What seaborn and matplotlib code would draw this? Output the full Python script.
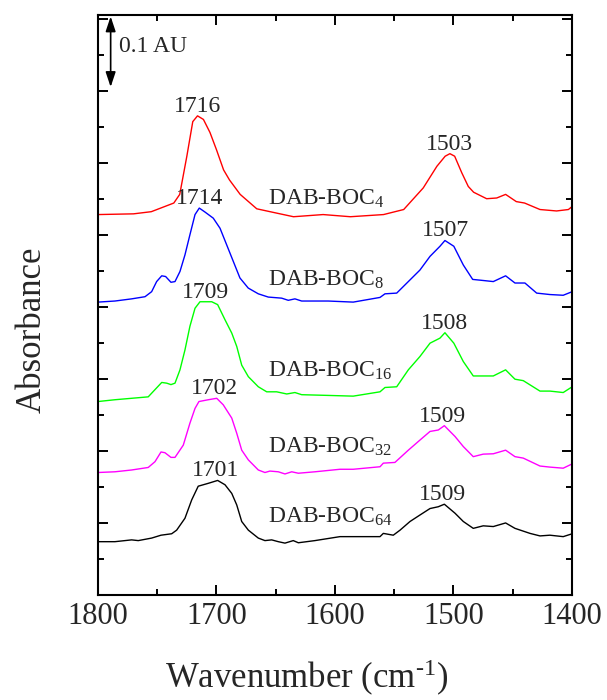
import matplotlib
matplotlib.use("Agg")
import matplotlib.pyplot as plt
from matplotlib.ticker import MultipleLocator, NullFormatter
import numpy as np
import pandas as pd
import seaborn as sns

# ---------------------------------------------------------------------------
# FTIR spectra of DAB-BOC dendrimers (offset absorbance, AU)
# ---------------------------------------------------------------------------
generations = [4, 8, 16, 32, 64]
colors = ["#ff0000", "#0000ff", "#00ff00", "#ff00ff", "#000000"]

wn_boc4 = [1800, 1770, 1755, 1736, 1731, 1725, 1720, 1716, 1711, 1705.5,
           1700, 1694, 1689, 1680, 1666, 1652, 1635, 1610, 1587, 1559,
           1542, 1525.5, 1514, 1507, 1503, 1499, 1493, 1487.5, 1483, 1472,
           1463.5, 1456, 1447, 1440, 1427, 1413, 1403, 1400]
ab_boc4 = [0.528, 0.529, 0.532, 0.544, 0.556, 0.609, 0.657, 0.665, 0.660, 0.642,
           0.618, 0.590, 0.576, 0.556, 0.536, 0.531, 0.525, 0.528, 0.525, 0.528,
           0.535, 0.565, 0.595, 0.609, 0.6125, 0.609, 0.586, 0.567, 0.559, 0.550,
           0.551, 0.556, 0.546, 0.544, 0.535, 0.533, 0.535, 0.539]

wn_boc8 = [1800, 1785.7, 1771.6, 1760.3, 1754.7, 1750.5, 1746.2, 1742.9, 1738.4, 1735.0,
           1730.8, 1726.6, 1722.4, 1718.1, 1714.5, 1709.7, 1702.7, 1697.0, 1691.4, 1685.8,
           1680.2, 1673.2, 1664.7, 1656.3, 1645.0, 1639.4, 1633.8, 1628.1, 1605.7, 1584.6,
           1562.0, 1557.8, 1547.9, 1538.1, 1528.3, 1519.8, 1511.4, 1507.2, 1499.7, 1491.7,
           1483.8, 1474.9, 1466.4, 1456.0, 1448.1, 1439.7, 1429.8, 1418.6, 1407.4, 1399.8]
ab_boc8 = [0.4065, 0.408, 0.411, 0.414, 0.421, 0.435, 0.443, 0.442, 0.434, 0.435,
           0.449, 0.472, 0.500, 0.528, 0.537, 0.5315, 0.523, 0.509, 0.486, 0.463,
           0.440, 0.426, 0.418, 0.4135, 0.412, 0.409, 0.411, 0.408, 0.408, 0.4065,
           0.413, 0.418, 0.419, 0.435, 0.451, 0.470, 0.484, 0.492, 0.484, 0.458,
           0.438, 0.4365, 0.435, 0.443, 0.433, 0.433, 0.419, 0.417, 0.416, 0.421]

wn_boc16 = [1800, 1785.7, 1771.6, 1757.6, 1751.9, 1746.2, 1742.0, 1738.4, 1735.0, 1730.8,
            1726.6, 1722.4, 1718.1, 1713.9, 1704.0, 1699.0, 1692.8, 1687.1, 1682.9, 1678.7,
            1673.1, 1664.7, 1657.6, 1649.2, 1640.7, 1633.8, 1628.1, 1605.7, 1584.6, 1562.0,
            1557.8, 1547.9, 1538.1, 1528.3, 1519.8, 1511.4, 1507.2, 1499.7, 1491.7, 1483.3,
            1474.9, 1466.4, 1456.0, 1448.1, 1441.1, 1427.0, 1418.6, 1407.4, 1399.8]
ab_boc16 = [0.2685, 0.271, 0.273, 0.275, 0.285, 0.295, 0.294, 0.292, 0.294, 0.3125,
            0.340, 0.373, 0.398, 0.407, 0.407, 0.403, 0.382, 0.3635, 0.345, 0.319,
            0.303, 0.289, 0.282, 0.282, 0.279, 0.281, 0.278, 0.277, 0.276, 0.282,
            0.288, 0.289, 0.3125, 0.331, 0.3495, 0.3565, 0.364, 0.3495, 0.324, 0.304,
            0.304, 0.304, 0.3125, 0.2995, 0.2975, 0.283, 0.283, 0.281, 0.289]

wn_boc32 = [1800, 1785.7, 1771.6, 1757.6, 1751.9, 1746.8, 1743.5, 1738.4, 1735.0, 1728.0,
            1722.4, 1718.1, 1714.8, 1706.9, 1699.8, 1694.3, 1687.1, 1682.9, 1678.7, 1673.1,
            1664.7, 1659.1, 1654.9, 1647.8, 1642.2, 1636.5, 1630.9, 1616.9, 1595.8, 1584.6,
            1562.0, 1559.2, 1549.4, 1538.1, 1528.3, 1519.8, 1512.8, 1507.7, 1498.7, 1491.7,
            1483.3, 1474.9, 1466.4, 1456.0, 1448.1, 1441.1, 1427.0, 1418.6, 1407.4, 1399.8]
ab_boc32 = [0.170, 0.171, 0.1735, 0.177, 0.185, 0.1985, 0.1975, 0.191, 0.191, 0.208,
            0.2385, 0.259, 0.2685, 0.271, 0.273, 0.264, 0.2455, 0.2245, 0.201, 0.1875,
            0.1735, 0.170, 0.172, 0.171, 0.168, 0.171, 0.169, 0.171, 0.1745, 0.1745,
            0.178, 0.183, 0.184, 0.201, 0.215, 0.227, 0.229, 0.235, 0.220, 0.206,
            0.192, 0.1955, 0.196, 0.201, 0.192, 0.190, 0.179, 0.1775, 0.176, 0.182]

wn_boc64 = [1800, 1785.7, 1771.6, 1766.0, 1754.7, 1746.8, 1737.8, 1733.6, 1726.6, 1720.9,
            1715.4, 1706.9, 1699.0, 1692.8, 1687.1, 1682.9, 1678.7, 1673.1, 1664.7, 1659.1,
            1653.4, 1647.8, 1642.2, 1635.2, 1630.9, 1616.9, 1595.8, 1584.6, 1562.0, 1559.2,
            1550.8, 1545.1, 1536.7, 1528.3, 1519.8, 1512.8, 1507.7, 1498.7, 1491.7, 1483.3,
            1474.9, 1466.4, 1456.0, 1448.1, 1435.4, 1427.0, 1418.6, 1407.4, 1399.8]
ab_boc64 = [0.074, 0.074, 0.0765, 0.0755, 0.079, 0.083, 0.085, 0.090, 0.1065, 0.132,
            0.151, 0.155, 0.159, 0.153, 0.141, 0.125, 0.102, 0.090, 0.079, 0.0755,
            0.0765, 0.074, 0.072, 0.0755, 0.0725, 0.0755, 0.081, 0.081, 0.081, 0.0855,
            0.083, 0.090, 0.102, 0.111, 0.120, 0.1225, 0.126, 0.1135, 0.102, 0.0925,
            0.096, 0.095, 0.100, 0.0925, 0.0855, 0.082, 0.083, 0.081, 0.085]

# peak positions annotated on each spectrum (cm-1)
peak_c_o = [1716, 1714, 1709, 1702, 1701]
peak_amide = [1503, 1507, 1508, 1509, 1509]

# ---------------------------------------------------------------------------
wavenumbers = [wn_boc4, wn_boc8, wn_boc16, wn_boc32, wn_boc64]
absorbances = [ab_boc4, ab_boc8, ab_boc16, ab_boc32, ab_boc64]
names = [f"DAB-BOC{g}" for g in generations]

df = pd.concat(
    [pd.DataFrame({"wavenumber": w, "absorbance": a, "sample": n})
     for w, a, n in zip(wavenumbers, absorbances, names)],
    ignore_index=True,
)

sns.set_style("ticks")
plt.rcParams["font.family"] = ["Liberation Serif", "DejaVu Serif"]
plt.rcParams["mathtext.fontset"] = "custom"
plt.rcParams["mathtext.rm"] = "Liberation Serif"
plt.rcParams["mathtext.it"] = "Liberation Serif:italic"
plt.rcParams["mathtext.bf"] = "Liberation Serif:bold"

fig = plt.figure(figsize=(6.07, 7.0), dpi=100)
ax = fig.add_axes([0.1614, 0.15, 0.7809, 0.8286])

sns.lineplot(data=df, x="wavenumber", y="absorbance", hue="sample",
             palette=dict(zip(names, colors)), estimator=None, sort=False,
             legend=False, linewidth=1.0, ax=ax)

ax.set_xlim(1800, 1400)
ax.set_ylim(0, 0.805)

ax.xaxis.set_major_locator(MultipleLocator(100))
ax.xaxis.set_minor_locator(MultipleLocator(50))
ax.yaxis.set_major_locator(MultipleLocator(0.1))
ax.yaxis.set_minor_locator(MultipleLocator(0.05))
ax.yaxis.set_major_formatter(NullFormatter())

ax.tick_params(which="both", direction="in", top=True, right=True,
               width=1.4, color="black")
ax.tick_params(which="major", length=7)
ax.tick_params(which="minor", length=4)
ax.tick_params(axis="x", which="major", labelsize=22, pad=5)
for sp in ax.spines.values():
    sp.set_linewidth(1.5)
    sp.set_color("black")

ax.set_xlabel(r"Wavenumber (cm$^{\text{-1}}$)", fontsize=25)
ax.set_ylabel("Absorbance", fontsize=25)
ax.xaxis.set_label_coords(0.44, -0.108)
ax.yaxis.set_label_coords(-0.105, 0.457)

# sample names
label_x = 1656.5
label_y = [0.5417, 0.4296, 0.3032, 0.198, 0.101]
for g, ly in zip(generations, label_y):
    ax.text(label_x, ly, f"DAB-BOC$_{{{g}}}$", fontsize=17,
            ha="left", va="baseline")

# peak labels above the band maxima
for w, a, p1, p2 in zip(wavenumbers, absorbances, peak_c_o, peak_amide):
    w = np.asarray(w)
    a = np.asarray(a)
    for p in (p1, p2):
        top = a[np.abs(w - p) <= 10].max()
        ax.annotate(str(p), xy=(p, top), xytext=(0, 3),
                    textcoords="offset points", ha="center", va="baseline",
                    fontsize=17)

# absorbance scale bar
ax.annotate("", xy=(1789.3, 0.705), xytext=(1789.3, 0.803),
            arrowprops=dict(arrowstyle="<|-|>,head_length=0.9,head_width=0.3",
                            color="black", lw=1.2, mutation_scale=10,
                            shrinkA=0, shrinkB=0))
ax.text(1782.3, 0.761, "0.1 AU", fontsize=17, ha="left", va="center")

fig.savefig("out.png", dpi=100)
